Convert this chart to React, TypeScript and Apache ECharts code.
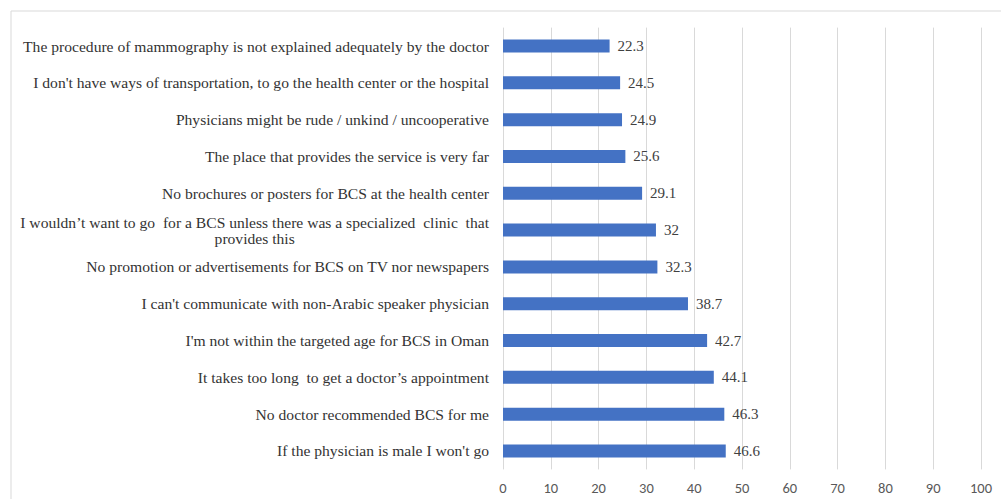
import React, { useEffect, useRef } from "react";
import * as echarts from "echarts";

const categories: string[] = [
  "The procedure of mammography is not explained adequately by the doctor",
  "I don't have ways of transportation, to go the health center or the hospital",
  "Physicians might be rude / unkind / uncooperative",
  "The place that provides the service is very far",
  "No brochures or posters for BCS at the health center",
  "I wouldn\u2019t want to go  for a BCS unless there was a specialized  clinic  that\nprovides this",
  "No promotion or advertisements for BCS on TV nor newspapers",
  "I can't communicate with non-Arabic speaker physician",
  "I'm not within the targeted age for BCS in Oman",
  "It takes too long  to get a doctor\u2019s appointment",
  "No doctor recommended BCS for me",
  "If the physician is male I won't go",
];
const values: number[] = [22.3, 24.5, 24.9, 25.6, 29.1, 32, 32.3, 38.7, 42.7, 44.1, 46.3, 46.6];
const xTicks = { min: 0, max: 100, interval: 10 };

const SERIF = "'Liberation Serif', 'Times New Roman', serif";
const CAT_SIZE = 15.6;

export default function App() {
  const ref = useRef<HTMLDivElement>(null);
  useEffect(() => {
    if (!ref.current) return;
    const chart = echarts.init(ref.current, undefined, { renderer: "svg" });
    chart.setOption({
      animation: false,
      backgroundColor: "#ffffff",
      graphic: [
        {
          type: "rect",
          shape: { x: 11, y: 11, width: 1100, height: 600 },
          style: { fill: "none", stroke: "#d9d9d9", lineWidth: 1 },
          silent: true,
          z: -1,
        },
      ],
      grid: { left: 503, right: 20, top: 27.6, bottom: 29.6, containLabel: false },
      xAxis: {
        type: "value",
        min: xTicks.min,
        max: xTicks.max,
        interval: xTicks.interval,
        axisLine: { show: false },
        axisTick: { show: false },
        splitLine: { show: true, lineStyle: { color: "#d9d9d9", width: 1 } },
        axisLabel: {
          color: "#595959",
          fontFamily: "Carlito, 'Liberation Sans', sans-serif",
          fontSize: 14.5,
          margin: 11,
        },
      },
      yAxis: {
        type: "category",
        inverse: true,
        data: categories,
        axisLine: { show: false },
        axisTick: { show: false },
        axisLabel: {
          margin: 14,
          color: "#333333",
          fontFamily: SERIF,
          fontSize: CAT_SIZE,
          lineHeight: 16,
          formatter: (v: string) => {
            const parts = v.split("\n");
            if (parts.length === 1) return v;
            return "{a|" + parts[0] + "}\n{b|" + parts[1] + "}";
          },
          rich: {
            a: { fontFamily: SERIF, fontSize: CAT_SIZE, color: "#333333", lineHeight: 16 },
            b: { fontFamily: SERIF, fontSize: CAT_SIZE, color: "#333333", lineHeight: 16, align: "center" },
          },
        },
      },
      series: [
        {
          type: "bar",
          data: values,
          barWidth: 13,
          itemStyle: { color: "#4472C4" },
          label: {
            show: true,
            position: "right",
            distance: 8,
            color: "#404040",
            fontFamily: SERIF,
            fontSize: 15,
          },
        },
      ],
    });
    return () => chart.dispose();
  }, []);
  return (
    <div
      ref={ref}
      style={{ position: "fixed", left: 0, top: 0, width: 1001, height: 499 }}
    />
  );
}
